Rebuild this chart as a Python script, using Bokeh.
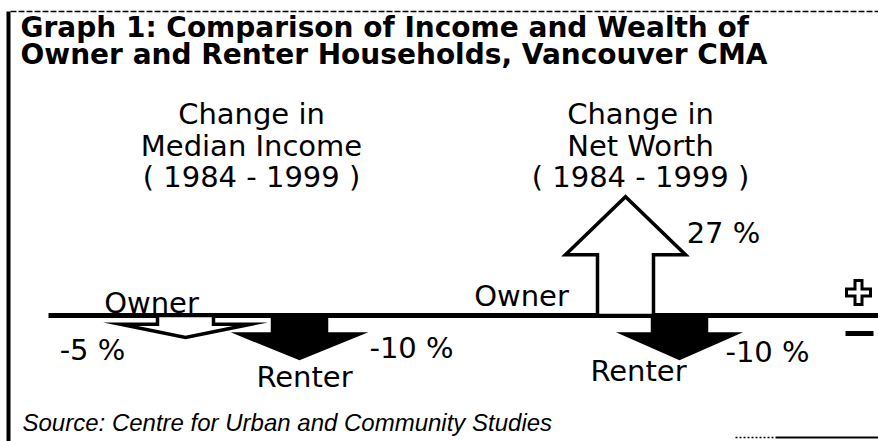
from bokeh.plotting import figure
from bokeh.models import Range1d, ColumnDataSource
from bokeh.core.properties import value
from bokeh.embed import file_html
from bokeh.resources import INLINE

# ---------------- data ----------------
title_lines = ["Graph 1:  Comparison of Income and Wealth of",
               "Owner and Renter Households, Vancouver CMA"]
panels = ["Median Income", "Net Worth"]
panel_heads = [["Change in", "Median Income", "( 1984 - 1999 )"],
               ["Change in", "Net Worth", "( 1984 - 1999 )"]]
owner_change = [-5, 27]      # % change, owner households
renter_change = [-10, -10]   # % change, renter households
source_text = "Source: Centre for Urban and Community Studies"

# ---------------- layout ----------------
W, H = 878, 441
PX = 4.4          # pixels per percentage point
BASE_PX = 315     # pixel row of the zero line

def py(pix):
    return (BASE_PX - pix) / PX

def tb(base, size):
    # anchor so that the rendered text baseline sits at pixel row `base`
    return py(base - 0.37 * size)

panel_cx = [251, 640]
owner_x = [185, 625]
renter_x = [299, 679]
shaft_hw = 28
head_hw = [65, 60]

p = figure(width=W, height=H, x_range=Range1d(0, W),
           y_range=Range1d(py(H), py(0)), output_backend="svg",
           toolbar_location=None, min_border=0,
           x_axis_location=None, y_axis_location=None)
p.grid.visible = False
p.outline_line_color = None
p.background_fill_color = "white"
p.border_fill_color = "white"

def arrow(xc, v, hw):
    s = 1 if v > 0 else -1
    hl = s * min(0.6 * abs(v), 58 / PX)
    xs = [xc - shaft_hw, xc - shaft_hw, xc - hw, xc, xc + hw, xc + shaft_hw, xc + shaft_hw]
    ys = [0, v - hl, v - hl, v, v - hl, v - hl, 0]
    return xs, ys

# frame lines of the scanned box
p.segment(x0=[8], y0=[py(11)], x1=[8], y1=[py(441)], line_color="black", line_width=4)
p.segment(x0=[10], y0=[py(11)], x1=[878], y1=[py(11)], line_color="black",
          line_width=1.5, line_dash="6 2")
p.segment(x0=[735], y0=[py(437)], x1=[775], y1=[py(437)], line_color="black",
          line_width=1.5, line_dash="2 2")
p.segment(x0=[775], y0=[py(437)], x1=[878], y1=[py(437)], line_color="black", line_width=2)

# zero line
p.segment(x0=[48], y0=[0], x1=[878], y1=[0], line_color="black", line_width=5)

# owner arrows (white, outlined)
oxs, oys = zip(*[arrow(owner_x[i], owner_change[i], head_hw[i]) for i in range(2)])
p.patches(xs=list(oxs), ys=list(oys), fill_color="white", line_color="black",
          line_width=3.5, line_join="miter")
# renter arrows (black)
rxs, rys = zip(*[arrow(renter_x[i], renter_change[i], head_hw[i]) for i in range(2)])
p.patches(xs=list(rxs), ys=list(rys), fill_color="black", line_color="black",
          line_width=1.5, line_join="miter")

# title
TS = 28
p.text(x=[20, 20], y=[tb(37, TS), tb(64, TS)], text=title_lines,
       text_font=value("DejaVu Sans"), text_font_style="bold",
       text_font_size=f"{TS}px", text_baseline="alphabetic", text_align="left",
       text_color="black")

# panel headings
HS = 29
hx, hy, ht = [], [], []
for i in range(2):
    for j, line in enumerate(panel_heads[i]):
        hx.append(panel_cx[i]); hy.append(tb([124, 156, 187][j], HS)); ht.append(line)
p.text(x=hx, y=hy, text=ht, text_font=value("DejaVu Sans"),
       text_font_size=f"{HS}px", text_align="center", text_baseline="alphabetic",
       text_color="black")

# labels
LS = 29
lab = ColumnDataSource(dict(
    x=[151, 304, 521, 638],
    y=[tb(313, LS), tb(387, LS), tb(306, LS), tb(381, LS)],
    t=["Owner", "Renter", "Owner", "Renter"]))
p.text(x="x", y="y", text="t", source=lab, text_font=value("DejaVu Sans"),
       text_font_size=f"{LS}px", text_align="center", text_baseline="alphabetic",
       text_color="black")

def pct(v):
    return f"{v} %"

vals = ColumnDataSource(dict(
    x=[92, 411, 723, 767],
    y=[tb(360, LS), tb(358, LS), tb(243, LS), tb(362, LS)],
    t=[pct(owner_change[0]), pct(renter_change[0]), pct(owner_change[1]), pct(renter_change[1])]))
p.text(x="x", y="y", text="t", source=vals, text_font=value("DejaVu Sans"),
       text_font_size=f"{LS}px", text_align="center", text_baseline="alphabetic",
       text_color="black")

# plus / minus symbols
p.scatter(x=[858], y=[py(292)], marker="cross", size=27, line_width=10, line_color="black")
p.scatter(x=[858], y=[py(292)], marker="cross", size=21, line_width=4, line_color="white")
p.segment(x0=[845], y0=[py(333)], x1=[873], y1=[py(333)], line_color="black", line_width=5)

# source
SS = 24
p.text(x=[22], y=[tb(431, SS)], text=[source_text], text_font=value("Liberation Sans"),
       text_font_style="italic", text_font_size=f"{SS}px", text_baseline="alphabetic",
       text_color="black")

open("out.html", "w").write(file_html(p, INLINE))
